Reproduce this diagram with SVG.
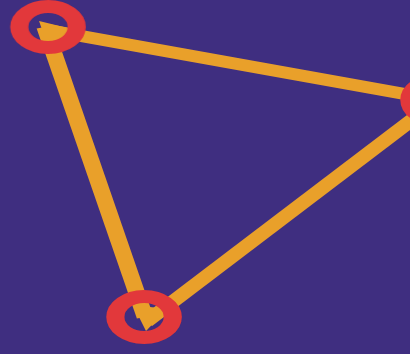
<svg xmlns="http://www.w3.org/2000/svg" width="410" height="354" viewBox="0 0 410 354">
  <style>
    .edge { stroke: #e9a02c; stroke-width: 12; stroke-linecap: butt; fill: none; }
    .head { fill: #e9a02c; }
    .node { fill: none; stroke: #e2373a; stroke-width: 13; }
  </style>
  <defs>
    <filter id="soft" x="-10%" y="-10%" width="120%" height="120%">
      <feGaussianBlur stdDeviation="0.7"/>
    </filter>
  </defs>
  <rect x="0" y="0" width="410" height="354" fill="#3f2e80"/>
  <g filter="url(#soft)">
    <g id="connectors" transform="scale(1.4,1)">
      <line class="edge" x1="34" y1="30" x2="313" y2="100"/>
      <line class="edge" x1="32" y1="27" x2="103.6" y2="317"/>
      <line class="edge" x1="313" y1="100" x2="104.3" y2="322"/>
      <polygon class="head" points="27.9,21 51.4,29 35,50"/>
      <polygon class="head" points="95,305 119.3,309 104.3,331"/>
    </g>
    <g id="node-a" transform="scale(1.4,1)">
      <circle class="node" cx="34.3" cy="27" r="20.5"/>
    </g>
    <g id="node-b" transform="scale(1.4,1)">
      <circle class="node" cx="312.9" cy="100" r="20.5"/>
    </g>
    <g id="node-c" transform="scale(1.4,1)">
      <circle class="node" cx="102.9" cy="317" r="20.5"/>
    </g>
  </g>
</svg>
